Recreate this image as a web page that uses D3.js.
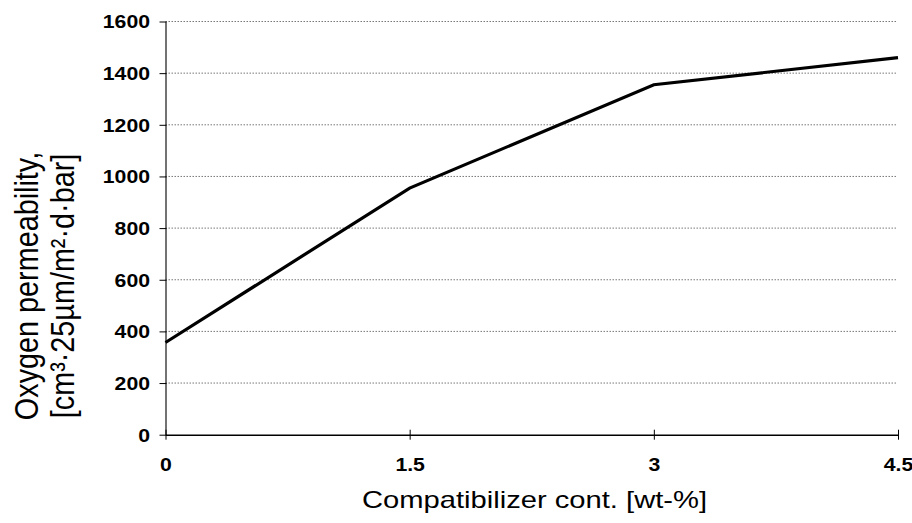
<!DOCTYPE html>
<html>
<head>
<meta charset="utf-8">
<script src="https://cdn.jsdelivr.net/npm/d3@7"></script>
<style>
  body { margin: 0; background: #fff; }
  svg text { font-family: "Liberation Sans", Arial, sans-serif; }
</style>
</head>
<body>
<svg id="chart" width="912" height="523"></svg>
<script>
// data
var compat = [0, 1.5, 3, 4.5];
var permeability = [357, 955, 1355, 1460];
var xTicks = [0, 1.5, 3, 4.5];
var yTicks = [0, 200, 400, 600, 800, 1000, 1200, 1400, 1600];

var STRETCH = 1.18; // the scanned figure is wider than tall

var svg = d3.select("#chart");
var plotLeft = 165.5, plotRight = 898, plotTop = 21.5, plotBottom = 434.7;

var x = d3.scaleLinear().domain([0, 4.5]).range([plotLeft, plotRight]);
var y = d3.scaleLinear().domain([0, 1600]).range([plotBottom, plotTop]);

// gridlines
svg.append("g")
    .selectAll("line")
    .data(yTicks.filter(function (d) { return d > 0; }))
    .enter().append("line")
    .attr("x1", plotLeft)
    .attr("x2", plotRight - 1)
    .attr("y1", function (d) { return y(d); })
    .attr("y2", function (d) { return y(d); })
    .attr("stroke", "#777")
    .attr("stroke-width", 1)
    .attr("stroke-dasharray", "1.5,1.5");

// y axis
var yAxis = svg.append("g")
    .attr("transform", "translate(" + plotLeft + ",0)")
    .call(d3.axisLeft(y).tickValues(yTicks).tickFormat(d3.format("d")).tickSize(6).tickSizeOuter(0));
yAxis.select(".domain").attr("stroke", "#444").attr("stroke-width", 1.5);
yAxis.selectAll(".tick line").attr("stroke", "#000").attr("x1", -6).attr("x2", 1);
yAxis.selectAll(".tick text")
    .attr("x", 0)
    .attr("dy", "0.36em")
    .attr("transform", "translate(-15.5,0) scale(" + STRETCH + ",1)")
    .style("font-size", "18px")
    .style("font-weight", "bold")
    .attr("fill", "#000");

// x axis
var xAxis = svg.append("g")
    .attr("transform", "translate(0," + plotBottom + ")")
    .call(d3.axisBottom(x).tickValues(xTicks).tickFormat(d3.format("")).tickSize(5).tickSizeOuter(0));
xAxis.select(".domain").attr("stroke", "#000").attr("stroke-width", 1.5);
xAxis.selectAll(".tick line").attr("stroke", "#000").attr("y1", -5).attr("y2", 5);
xAxis.selectAll(".tick text")
    .attr("y", 24)
    .attr("dy", "0.71em")
    .attr("transform", "scale(" + STRETCH + ",1)")
    .style("font-size", "18px")
    .style("font-weight", "bold")
    .attr("fill", "#000");

// the line
var line = d3.line()
    .x(function (d) { return x(d[0]); })
    .y(function (d) { return y(d[1]); });

svg.append("path")
    .datum(d3.zip(compat, permeability))
    .attr("d", line)
    .attr("fill", "none")
    .attr("stroke", "#000")
    .attr("stroke-width", 3.2)
    .attr("stroke-linejoin", "miter");

// axis titles
svg.append("text")
    .attr("x", 534.5 - 172.5)
    .attr("y", 508)
    .attr("textLength", 345)
    .attr("lengthAdjust", "spacingAndGlyphs")
    .style("font-size", "24px")
    .text("Compatibilizer cont. [wt-%]");

var yt = svg.append("g")
    .attr("transform", "scale(" + STRETCH + ",1)")
  .append("text")
    .attr("transform", "translate(" + (38.3 / STRETCH) + ",286) rotate(-90)")
    .attr("text-anchor", "middle")
    .style("font-size", "28.8px");
yt.append("tspan").attr("x", 0).attr("dy", 0).text("Oxygen permeability,");
yt.append("tspan").attr("x", 0).attr("dy", 30).text("[cm³·25µm/m²·d·bar]");
</script>
</body>
</html>
